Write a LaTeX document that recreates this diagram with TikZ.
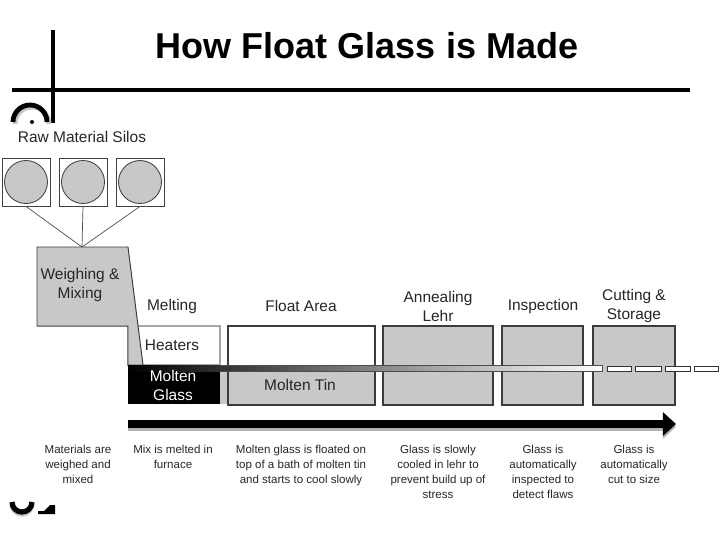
\documentclass[tikz,border=0pt]{standalone}
\usepackage{fontspec}
\setmainfont{Liberation Sans}
\usetikzlibrary{arrows.meta,positioning,calc}
\definecolor{panelgray}{RGB}{200,200,200}
\definecolor{edgegray}{RGB}{60,60,60}
\tikzset{
  stagebox/.style={draw=edgegray,fill=panelgray,line width=0.9pt},
  silobox/.style={draw=black!75,fill=white,minimum size=1.2cm,inner sep=0pt,line width=0.6pt},
  silodisk/.style={draw=black!75,fill=panelgray,line width=0.6pt},
  feedline/.style={draw=black!70,line width=0.5pt},
  rulebar/.style={line width=0.1cm},
  flowarrow/.style={-{Triangle[length=0.33cm,width=0.58cm]},line width=0.2cm},
  glasscut/.style={draw=black!80,fill=white,line width=0.5pt},
  titlelabel/.style={font=\fontsize{25.6}{30}\selectfont\bfseries,inner sep=0pt},
  stagelabel/.style={font=\fontsize{11}{13.5}\selectfont,align=center,inner sep=0pt,text=black!85},
  notelabel/.style={font=\fontsize{8.2}{10.6}\selectfont,align=center,inner sep=0pt,anchor=north,text=black!85}
}

\begin{document}
\begin{tikzpicture}[x=0.025cm,y=-0.025cm]
  \useasboundingbox (0,0) rectangle (720,540);

  % title and rules
  \node[titlelabel] (title) at (367,46) {How Float Glass is Made};
  \draw[rulebar] (12,90) -- (690,90);
  \draw[rulebar] (53,30) -- (53,123);
  \draw[gray!45,line width=0.12cm] (15,124) arc[start angle=180,end angle=360,radius=17];
  \draw[line width=0.12cm] (13,122) arc[start angle=180,end angle=360,radius=17];
  \fill (32,122) circle (2);
  \draw[gray!45,line width=0.13cm] (12,504) arc[start angle=180,end angle=0,radius=10];
  \draw[line width=0.13cm] (12,502) arc[start angle=180,end angle=0,radius=10];
  \fill (38,514) -- (55,514) -- (55,505) -- (50,505) -- (44,511) -- (38,511) -- cycle;

  % silos
  \node[stagelabel] (silos) at (82,137) {Raw Material Silos};
  \foreach \x/\name in {26/silo1,83/silo2,140/silo3}{
    \node[silobox] (\name) at (\x,182) {};
    \draw[silodisk] (\name.center) circle (21.5);
  }
  \coordinate (mixtop) at (82,247);
  \foreach \name in {silo1,silo2,silo3}
    \draw[feedline] (\name.south) -- (mixtop);

  % weighing and melting
  \draw[draw=gray!70,fill=white,line width=0.8pt] (128,326) rectangle (220,365);
  \draw[draw=edgegray,fill=panelgray,line width=0.7pt]
    (37,247) -- (128,247) -- (143,365) -- (128,365) -- (128,326) -- (37,326) -- cycle;
  \node[stagelabel] (mixing) at (80,285) {Weighing \&\\Mixing};
  \node[stagelabel] (heaters) at (172,345) {Heaters};
  \fill[black] (128,365) rectangle (220,404);
  \fill[panelgray] (220,371) rectangle (228,404);

  % float bath and later stages
  \fill[white] (228,326) rectangle (375,371);
  \fill[panelgray] (228,371) rectangle (375,405);
  \draw[edgegray,line width=0.9pt] (228,326) rectangle (375,405);
  \foreach \l/\r in {383/493,502/583,593/675}
    \draw[stagebox] (\l,326) rectangle (\r,405);

  % glass ribbon
  \shade[left color=black,middle color=black!55,right color=white] (128,365) rectangle (602,371);
  \draw[black!70,line width=0.5pt] (220,365) -- (602,365) -- (602,371) -- (220,371);
  \foreach \a/\b in {607/631,635/661,665/690,694/718}
    \draw[glasscut] (\a,366) rectangle (\b,371);
  \node[stagelabel,text=white] (glass) at (173,385) {Molten\\Glass};
  \node[stagelabel] (tin) at (300,385) {Molten Tin};

  \foreach \x/\name/\txt in {172/melting/Melting,301/float/Float Area,
      438/lehr/{Annealing\\Lehr},543/inspect/Inspection,634/cutting/{Cutting \&\\Storage}}
    \node[stagelabel] (\name) at (\x,306) {\txt};

  % flow arrow
  \coordinate (flowstart) at (128,424);
  \coordinate (flowend) at (676,424);
  \draw[flowarrow,gray!60,transform canvas={yshift=-0.07cm}] (flowstart) -- (flowend);
  \draw[flowarrow] (flowstart) -- (flowend);

  % notes
  \foreach \x/\name/\txt in {78/note-mix/{Materials are\\weighed and\\mixed},
      173/note-melt/{Mix is melted in\\furnace},
      301/note-float/{Molten glass is floated on\\top of a bath of molten tin\\and starts to cool slowly},
      438/note-lehr/{Glass is slowly\\cooled in lehr to\\prevent build up of\\stress},
      543/note-inspect/{Glass is\\automatically\\inspected to\\detect flaws},
      634/note-cut/{Glass is\\automatically\\cut to size}}
    \node[notelabel] (\name) at (\x,445) {\txt};
\end{tikzpicture}
\end{document}
